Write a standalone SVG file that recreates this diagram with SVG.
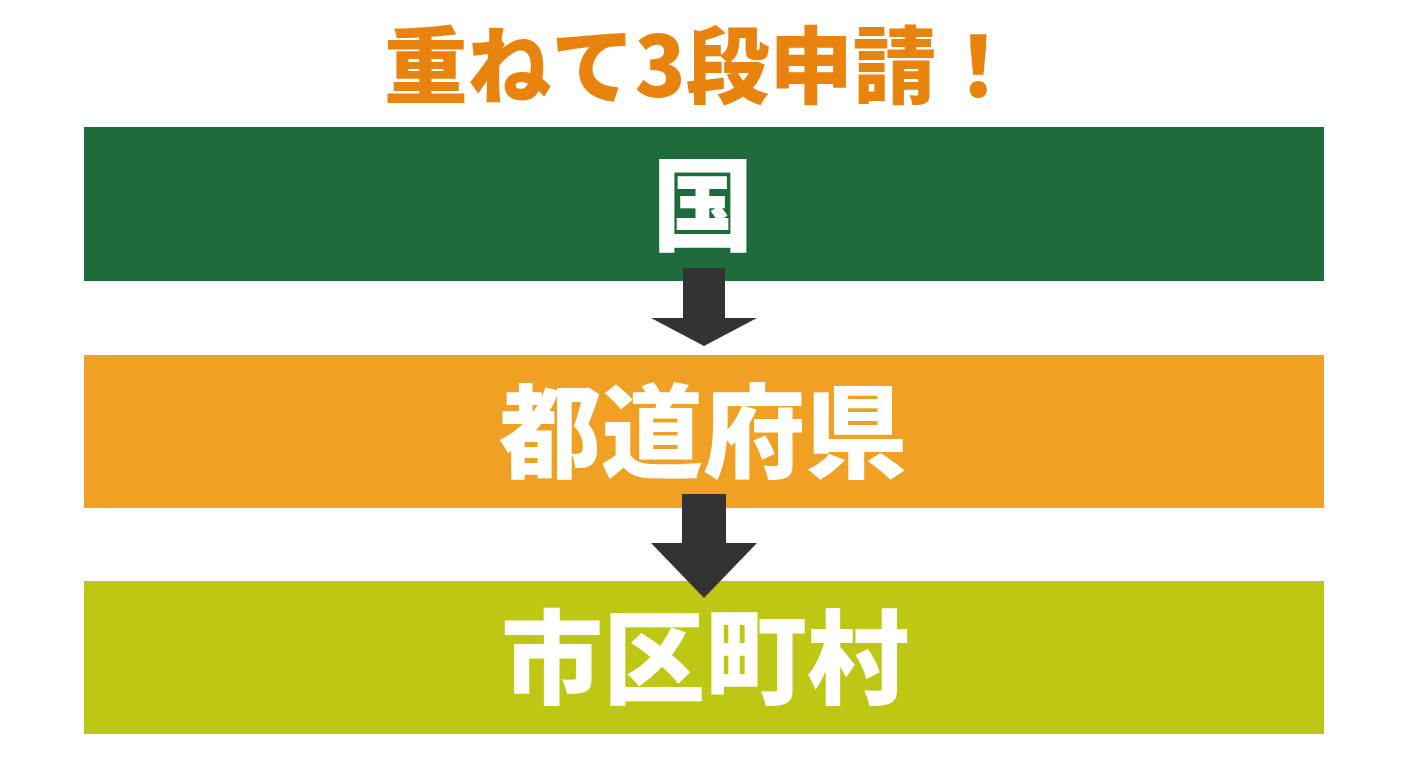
<svg xmlns="http://www.w3.org/2000/svg" width="1408" height="768" viewBox="0 0 1408 768">
<style>
.t{font-family:"Noto Sans CJK JP","Noto Sans",sans-serif;font-weight:900;text-anchor:middle}
.lbl{fill:#ffffff;font-size:102px}
.arr{fill:#333333}
</style>
<rect width="1408" height="768" fill="#ffffff"/>
<text id="title" class="t" x="702" y="97" font-size="84" fill="#E8840E" textLength="636" lengthAdjust="spacingAndGlyphs">重ねて3段申請！</text>
<g id="kuni"><rect x="84" y="127" width="1240" height="154" fill="#1E6B3C"/><text class="t lbl" x="703" y="243">国</text></g>
<g id="todofuken"><rect x="84" y="355" width="1240" height="153" fill="#F0A023"/><text class="t lbl" x="703" y="470">都道府県</text></g>
<g id="shikuchoson"><rect x="84" y="581" width="1240" height="153" fill="#BEC814"/><text class="t lbl" x="705" y="696">市区町村</text></g>
<g id="connectors">
<polygon class="arr" points="683,268 725,268 725,318 757,318 704,346 651,318 683,318"/>
<polygon class="arr" points="682,494 726,494 726,543 757,543 704,598 651,543 682,543"/>
</g>
</svg>
